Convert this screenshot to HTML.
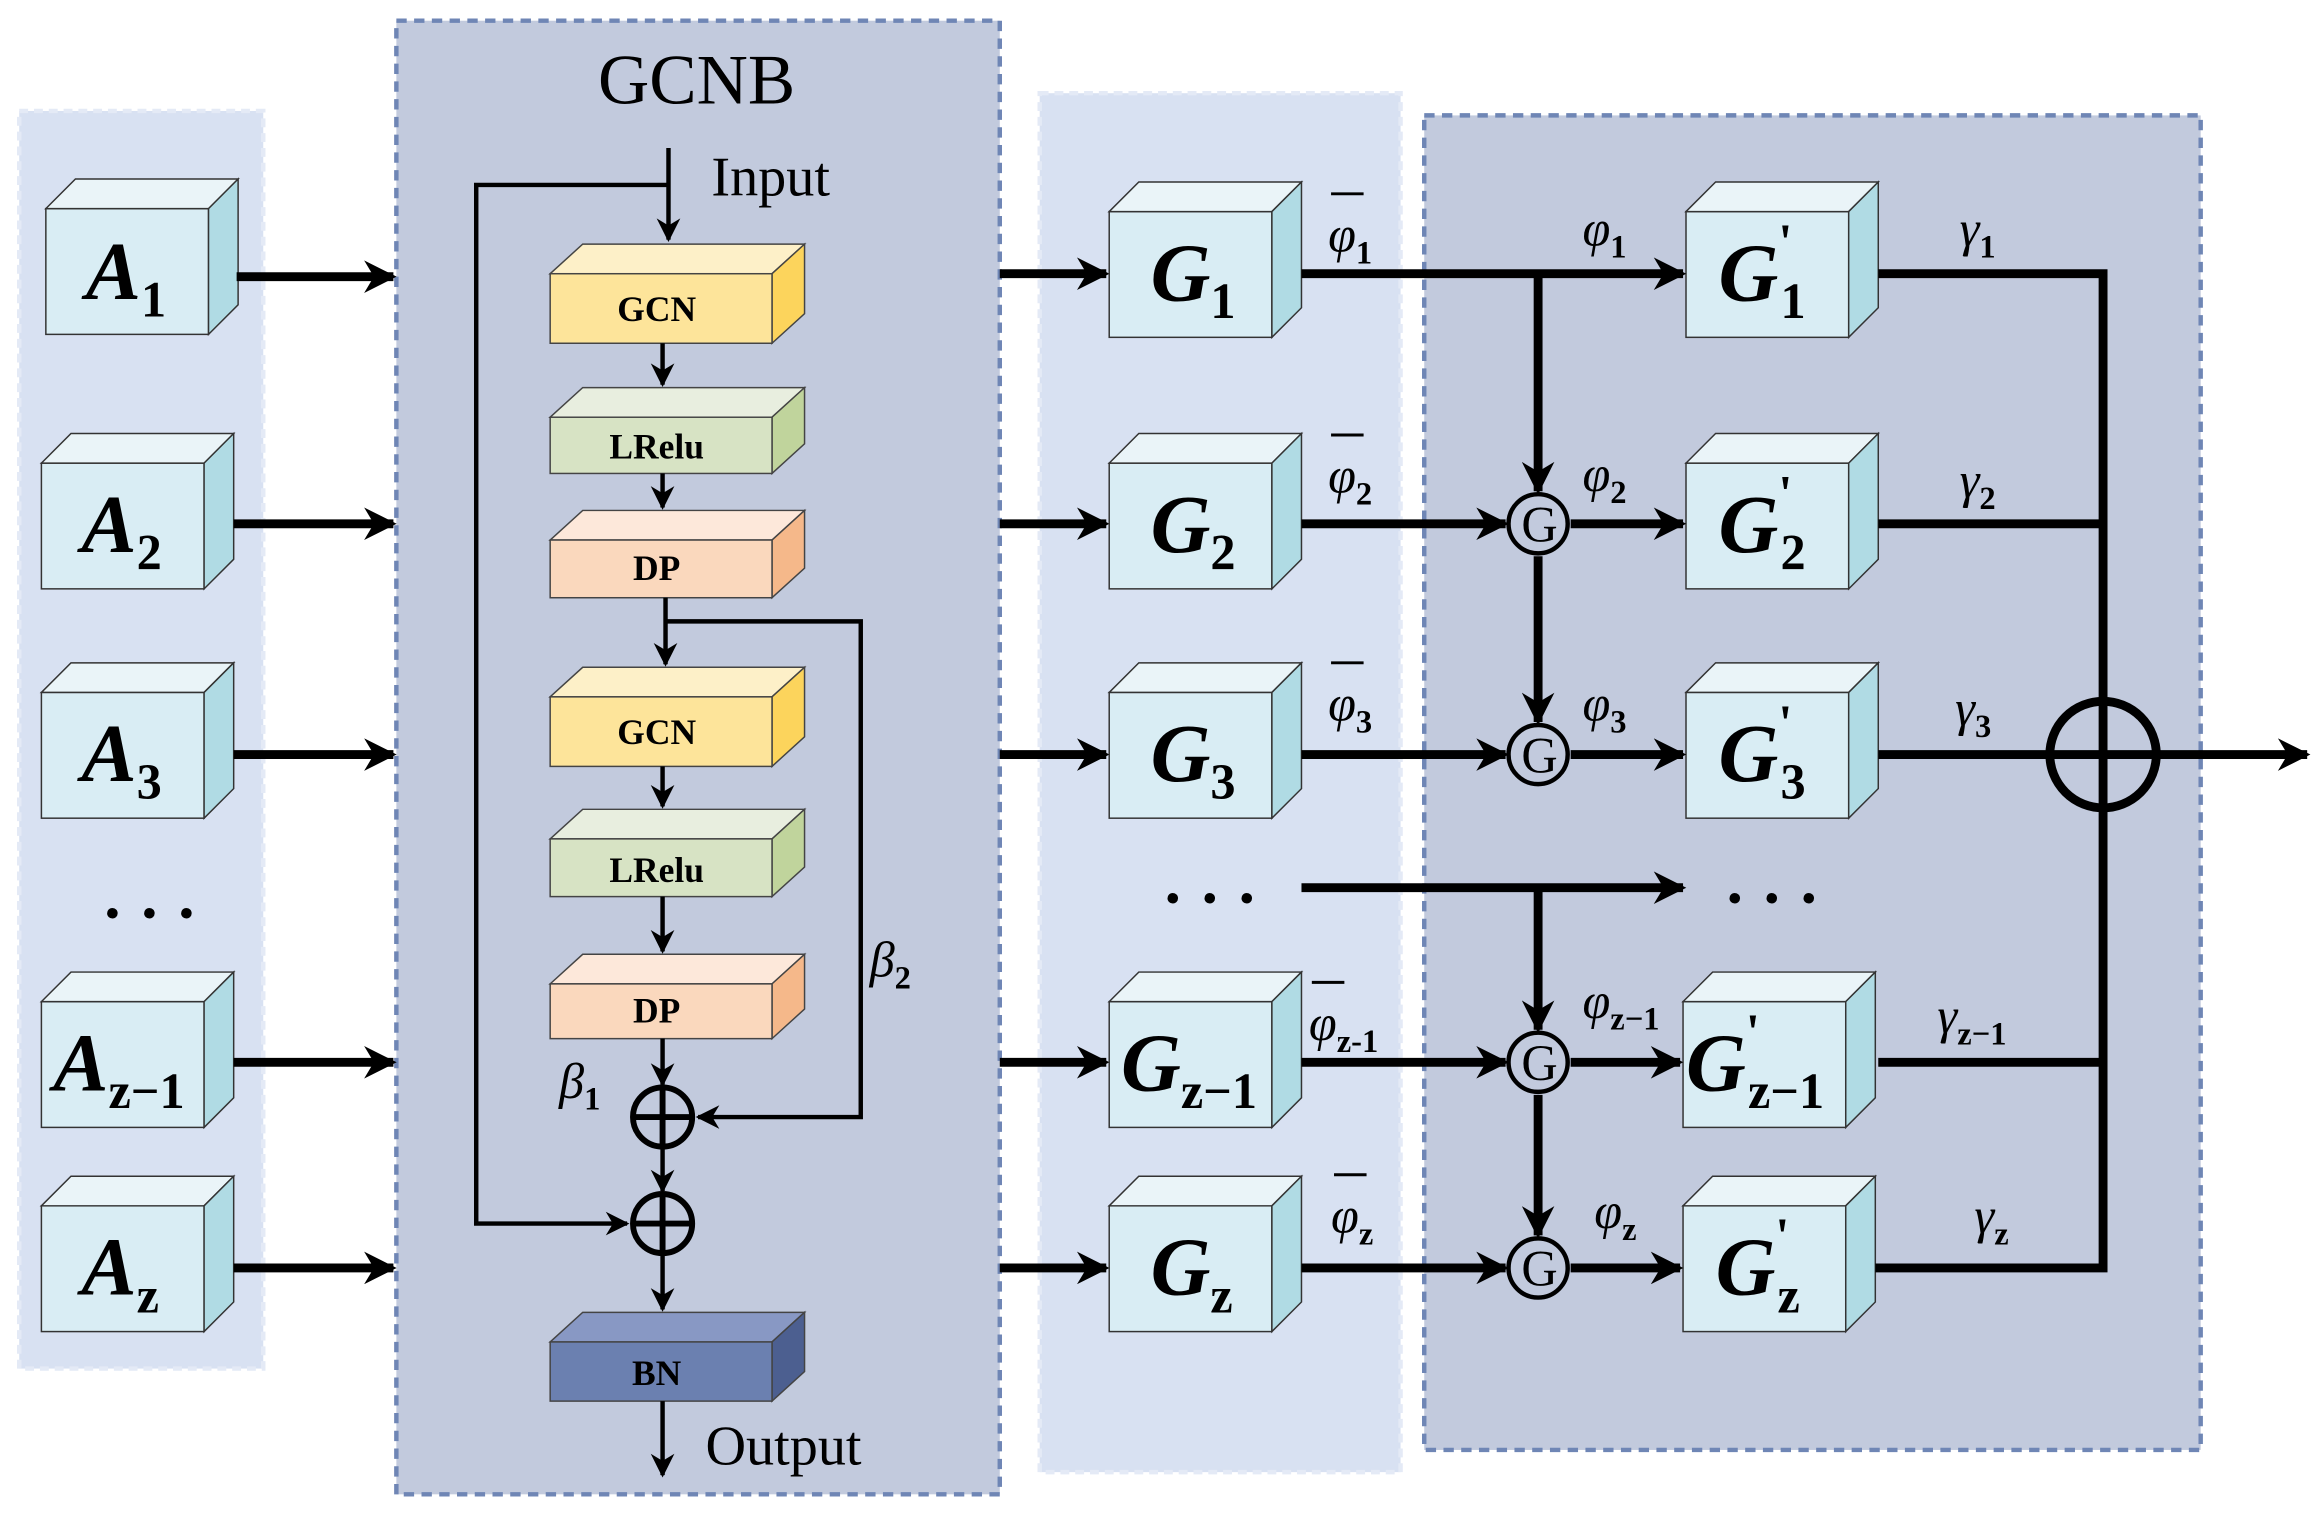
<!DOCTYPE html>
<html><head><meta charset="utf-8"><style>
html,body{margin:0;padding:0;background:#fff;}
svg{display:block;}
svg, text{font-family:"Liberation Serif","DejaVu Serif",serif;}
.bl{font-weight:bold;font-size:24px;text-anchor:middle;}
.big{font-weight:bold;font-style:italic;font-size:56px;}
.sub{font-weight:bold;font-size:34px;font-style:normal;}
.lab{font-style:italic;font-size:34px;}
.ls{font-size:22px;font-weight:bold;font-style:normal;}
.dots{font-size:44px;font-weight:bold;text-anchor:middle;letter-spacing:14px;}
</style></head><body>
<svg width="2319" height="1518" viewBox="0 0 1568 1026" preserveAspectRatio="none" xmlns="http://www.w3.org/2000/svg" font-family="Liberation Serif, DejaVu Serif, serif">
<defs>
<g id="cube">
<rect x="0" y="0" width="110" height="85" fill="#d9edf4" stroke="#333" stroke-width="1"/>
<polygon points="0,0 20,-20 130,-20 110,0" fill="#eaf4f8" stroke="#333" stroke-width="1"/>
<polygon points="110,0 130,-20 130,65 110,85" fill="#b0dbe4" stroke="#333" stroke-width="1"/>
</g>
<marker id="ab" viewBox="0 0 10 10" refX="9" refY="5" markerWidth="28" markerHeight="22" orient="auto" markerUnits="userSpaceOnUse"><path d="M0,0 L10,5 L0,10 L3,5z" fill="#000"/></marker>
<marker id="as" viewBox="0 0 10 10" refX="9" refY="5" markerWidth="20" markerHeight="16" orient="auto" markerUnits="userSpaceOnUse"><path d="M0,0 L10,5 L0,10 L3,5z" fill="#000"/></marker>
</defs>

<rect x="13" y="75" width="165" height="850" fill="#d8e1f2" stroke="#e4eaf6" stroke-width="3" stroke-dasharray="6,4"/>
<rect x="268" y="14" width="408" height="996" fill="#c2cadd" stroke="#6f86b5" stroke-width="3" stroke-dasharray="7,5"/>
<rect x="703" y="63" width="244" height="932" fill="#d8e1f2" stroke="#e4eaf6" stroke-width="3" stroke-dasharray="6,4"/>
<rect x="963" y="78" width="525" height="902" fill="#c2cadd" stroke="#6f86b5" stroke-width="3" stroke-dasharray="7,5"/>

<text x="471" y="70" font-size="48" text-anchor="middle">GCNB</text>

<use href="#cube" x="31" y="141"/>
<use href="#cube" x="28" y="313"/>
<use href="#cube" x="28" y="468"/>
<use href="#cube" x="28" y="677"/>
<use href="#cube" x="28" y="815"/>
<text x="58" y="202" class="big">A<tspan class="sub" dy="12">1</tspan></text>
<text x="55" y="373" class="big">A<tspan class="sub" dy="12">2</tspan></text>
<text x="55" y="528" class="big">A<tspan class="sub" dy="12">3</tspan></text>
<text x="36" y="737" class="big">A<tspan class="sub" font-style="italic" dy="12">z</tspan><tspan class="sub">−1</tspan></text>
<text x="55" y="875" class="big">A<tspan class="sub" font-style="italic" dy="12">z</tspan></text>
<text x="108" y="620" class="dots">...</text>

<g stroke="#000" stroke-width="6" marker-end="url(#ab)">
<line x1="160" y1="187" x2="266" y2="187"/>
<line x1="158" y1="354" x2="266" y2="354"/>
<line x1="158" y1="510" x2="266" y2="510"/>
<line x1="158" y1="718" x2="266" y2="718"/>
<line x1="158" y1="857" x2="266" y2="857"/>
<line x1="676" y1="185" x2="748" y2="185"/>
<line x1="676" y1="354" x2="748" y2="354"/>
<line x1="676" y1="510" x2="748" y2="510"/>
<line x1="676" y1="718" x2="748" y2="718"/>
<line x1="676" y1="857" x2="748" y2="857"/>
</g>

<g stroke="#444" stroke-width="1">
<polygon points="372,185 394,165 544,165 522,185" fill="#fdf0c8"/><polygon points="522,185 544,165 544,212 522,232" fill="#fcd45c"/><rect x="372" y="185" width="150" height="47" fill="#fde49a"/>
<polygon points="372,282 394,262 544,262 522,282" fill="#e8eedf"/><polygon points="522,282 544,262 544,300 522,320" fill="#c0d49c"/><rect x="372" y="282" width="150" height="38" fill="#d7e3c4"/>
<polygon points="372,365 394,345 544,345 522,365" fill="#fde8da"/><polygon points="522,365 544,345 544,384 522,404" fill="#f5b88a"/><rect x="372" y="365" width="150" height="39" fill="#fad8bd"/>
<polygon points="372,471 394,451 544,451 522,471" fill="#fdf0c8"/><polygon points="522,471 544,451 544,498 522,518" fill="#fcd45c"/><rect x="372" y="471" width="150" height="47" fill="#fde49a"/>
<polygon points="372,567 394,547 544,547 522,567" fill="#e8eedf"/><polygon points="522,567 544,547 544,586 522,606" fill="#c0d49c"/><rect x="372" y="567" width="150" height="39" fill="#d7e3c4"/>
<polygon points="372,665 394,645 544,645 522,665" fill="#fde8da"/><polygon points="522,665 544,645 544,682 522,702" fill="#f5b88a"/><rect x="372" y="665" width="150" height="37" fill="#fad8bd"/>
<polygon points="372,907 394,887 544,887 522,907" fill="#8898c4"/><polygon points="522,907 544,887 544,927 522,947" fill="#4c5f90"/><rect x="372" y="907" width="150" height="40" fill="#6b80b0"/>
</g>
<text x="444" y="217" class="bl">GCN</text>
<text x="444" y="310" class="bl">LRelu</text>
<text x="444" y="392" class="bl">DP</text>
<text x="444" y="503" class="bl">GCN</text>
<text x="444" y="596" class="bl">LRelu</text>
<text x="444" y="691" class="bl">DP</text>
<text x="444" y="936" class="bl">BN</text>

<g stroke="#000" stroke-width="3" fill="none">
<line x1="452" y1="100" x2="452" y2="162" marker-end="url(#as)"/>
<polyline points="452,125 322,125 322,827 424,827" marker-end="url(#as)"/>
<line x1="448" y1="232" x2="448" y2="260" marker-end="url(#as)"/>
<line x1="448" y1="320" x2="448" y2="343" marker-end="url(#as)"/>
<line x1="450" y1="404" x2="450" y2="449" marker-end="url(#as)"/>
<polyline points="450,420 582,420 582,755 472,755" marker-end="url(#as)"/>
<line x1="448" y1="518" x2="448" y2="545" marker-end="url(#as)"/>
<line x1="448" y1="606" x2="448" y2="643" marker-end="url(#as)"/>
<line x1="448" y1="702" x2="448" y2="733" marker-end="url(#as)"/>
<line x1="448" y1="776" x2="448" y2="805" marker-end="url(#as)"/>
<line x1="448" y1="848" x2="448" y2="885" marker-end="url(#as)"/>
<line x1="448" y1="947" x2="448" y2="997" marker-end="url(#as)"/>
</g>
<g stroke="#000" stroke-width="4" fill="none">
<circle cx="448" cy="755" r="20"/><line x1="428" y1="755" x2="468" y2="755"/><line x1="448" y1="735" x2="448" y2="775"/>
<circle cx="448" cy="827" r="20"/><line x1="428" y1="827" x2="468" y2="827"/><line x1="448" y1="807" x2="448" y2="847"/>
</g>
<text x="481" y="132" font-size="38">Input</text>
<text x="477" y="990" font-size="38">Output</text>
<text x="378" y="742" class="lab">β<tspan class="ls" dy="8">1</tspan></text>
<text x="588" y="660" class="lab">β<tspan class="ls" dy="8">2</tspan></text>

<use href="#cube" x="750" y="143"/>
<use href="#cube" x="750" y="313"/>
<use href="#cube" x="750" y="468"/>
<use href="#cube" x="750" y="677"/>
<use href="#cube" x="750" y="815"/>
<text x="778" y="203" class="big">G<tspan class="sub" dy="12">1</tspan></text>
<text x="778" y="373" class="big">G<tspan class="sub" dy="12">2</tspan></text>
<text x="778" y="528" class="big">G<tspan class="sub" dy="12">3</tspan></text>
<text x="758" y="737" class="big">G<tspan class="sub" font-style="italic" dy="12">z</tspan><tspan class="sub">−1</tspan></text>
<text x="778" y="875" class="big">G<tspan class="sub" font-style="italic" dy="12">z</tspan></text>
<text x="825" y="610" class="dots">...</text>
<text x="1205" y="610" class="dots">...</text>

<use href="#cube" x="1140" y="143"/>
<use href="#cube" x="1140" y="313"/>
<use href="#cube" x="1140" y="468"/>
<use href="#cube" x="1138" y="677"/>
<use href="#cube" x="1138" y="815"/>
<text x="1162" y="203" class="big">G<tspan class="sub" dy="-28">'</tspan><tspan class="sub" dx="-8" dy="40">1</tspan></text>
<text x="1162" y="373" class="big">G<tspan class="sub" dy="-28">'</tspan><tspan class="sub" dx="-8" dy="40">2</tspan></text>
<text x="1162" y="528" class="big">G<tspan class="sub" dy="-28">'</tspan><tspan class="sub" dx="-8" dy="40">3</tspan></text>
<text x="1140" y="737" class="big">G<tspan class="sub" dy="-28">'</tspan><tspan class="sub" font-style="italic" dx="-8" dy="40">z</tspan><tspan class="sub">−1</tspan></text>
<text x="1160" y="875" class="big">G<tspan class="sub" dy="-28">'</tspan><tspan class="sub" font-style="italic" dx="-8" dy="40">z</tspan></text>

<g stroke="#000" stroke-width="6" fill="none">
<line x1="880" y1="185" x2="1138" y2="185" marker-end="url(#ab)"/>
<line x1="1040" y1="185" x2="1040" y2="332" marker-end="url(#ab)"/>
<line x1="880" y1="354" x2="1018" y2="354" marker-end="url(#ab)"/>
<line x1="1062" y1="354" x2="1138" y2="354" marker-end="url(#ab)"/>
<line x1="1040" y1="376" x2="1040" y2="488" marker-end="url(#ab)"/>
<line x1="880" y1="510" x2="1018" y2="510" marker-end="url(#ab)"/>
<line x1="1062" y1="510" x2="1138" y2="510" marker-end="url(#ab)"/>
<line x1="880" y1="600" x2="1138" y2="600" marker-end="url(#ab)"/>
<line x1="1040" y1="600" x2="1040" y2="696" marker-end="url(#ab)"/>
<line x1="880" y1="718" x2="1018" y2="718" marker-end="url(#ab)"/>
<line x1="1062" y1="718" x2="1136" y2="718" marker-end="url(#ab)"/>
<line x1="1040" y1="740" x2="1040" y2="835" marker-end="url(#ab)"/>
<line x1="880" y1="857" x2="1018" y2="857" marker-end="url(#ab)"/>
<line x1="1062" y1="857" x2="1136" y2="857" marker-end="url(#ab)"/>
<polyline points="1270,185 1422,185 1422,857 1268,857"/>
<line x1="1270" y1="354" x2="1422" y2="354"/>
<line x1="1270" y1="718" x2="1422" y2="718"/>
<line x1="1270" y1="510" x2="1560" y2="510" marker-end="url(#ab)"/>
<circle cx="1422" cy="510" r="36"/>
</g>
<g fill="#c2cadd" stroke="#000" stroke-width="3">
<circle cx="1040" cy="354" r="20"/><circle cx="1040" cy="510" r="20"/><circle cx="1040" cy="718" r="20"/><circle cx="1040" cy="857" r="20"/>
</g>
<g font-size="34" text-anchor="middle">
<text x="1041" y="366">G</text><text x="1041" y="522">G</text><text x="1041" y="730">G</text><text x="1041" y="869">G</text>
</g>

<g class="lab">
<text x="898" y="170">φ<tspan class="ls" dy="8">1</tspan></text>
<text x="898" y="333">φ<tspan class="ls" dy="8">2</tspan></text>
<text x="898" y="487">φ<tspan class="ls" dy="8">3</tspan></text>
<text x="885" y="703">φ<tspan class="ls" dy="8">z-1</tspan></text>
<text x="900" y="833">φ<tspan class="ls" dy="8">z</tspan></text>
<text x="1070" y="166">φ<tspan class="ls" dy="8">1</tspan></text>
<text x="1070" y="332">φ<tspan class="ls" dy="8">2</tspan></text>
<text x="1070" y="487">φ<tspan class="ls" dy="8">3</tspan></text>
<text x="1070" y="688">φ<tspan class="ls" dy="8">z−1</tspan></text>
<text x="1078" y="830">φ<tspan class="ls" dy="8" font-style="italic">z</tspan></text>
<text x="1325" y="166">γ<tspan class="ls" dy="8">1</tspan></text>
<text x="1325" y="336">γ<tspan class="ls" dy="8">2</tspan></text>
<text x="1322" y="490">γ<tspan class="ls" dy="8">3</tspan></text>
<text x="1310" y="698">γ<tspan class="ls" dy="8">z−1</tspan></text>
<text x="1335" y="833">γ<tspan class="ls" dy="8" font-style="italic">z</tspan></text>
</g>
<g stroke="#000" stroke-width="2">
<line x1="900" y1="131" x2="922" y2="131"/>
<line x1="900" y1="294" x2="922" y2="294"/>
<line x1="900" y1="448" x2="922" y2="448"/>
<line x1="887" y1="664" x2="909" y2="664"/>
<line x1="902" y1="794" x2="924" y2="794"/>
</g>
</svg>
</body></html>
